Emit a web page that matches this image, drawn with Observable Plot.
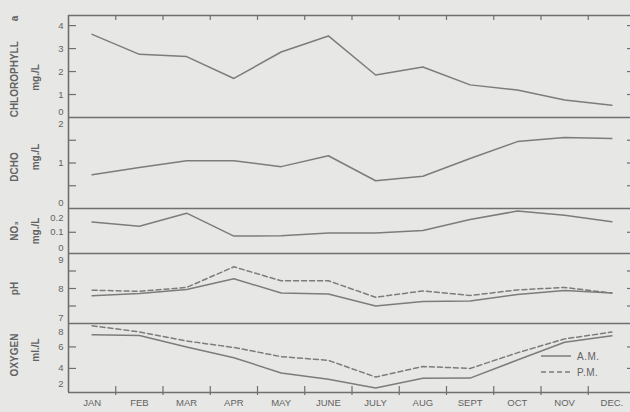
<!DOCTYPE html>
<html>
<head>
<meta charset="utf-8">
<script src="https://cdn.jsdelivr.net/npm/d3@7"></script>
<script src="https://cdn.jsdelivr.net/npm/@observablehq/plot@0.6"></script>
<style>
  body { margin: 0; background: #e7e7e5; }
  #chart { position: relative; width: 630px; height: 412px; overflow: hidden; }
  #chart svg { display: block; }
  #legend { position: absolute; left: 537px; top: 347px; }
</style>
</head>
<body>
<div id="chart"></div>
<script>
// Monthly means, January to December
const months = ["JAN", "FEB", "MAR", "APR", "MAY", "JUNE", "JULY", "AUG", "SEPT", "OCT", "NOV", "DEC."];

const chlorophyll = [3.62, 2.75, 2.65, 1.7, 2.85, 3.55, 1.85, 2.2, 1.42, 1.2, 0.76, 0.53];
const dcho        = [0.74, 0.9, 1.05, 1.05, 0.92, 1.16, 0.61, 0.71, 1.1, 1.47, 1.56, 1.54];
const no3         = [0.148, 0.128, 0.19, 0.082, 0.084, 0.096, 0.097, 0.108, 0.16, 0.2, 0.18, 0.15];
const phAM        = [7.79, 7.86, 7.97, 8.28, 7.87, 7.84, 7.5, 7.63, 7.64, 7.83, 7.94, 7.87];
const phPM        = [7.95, 7.92, 8.03, 8.62, 8.22, 8.22, 7.75, 7.93, 7.8, 7.96, 8.03, 7.87];
const oxygenAM    = [7.13, 7.06, 6.0, 5.0, 3.58, 3.0, 2.18, 3.09, 3.1, 4.78, 6.43, 7.03];
const oxygenPM    = [7.97, 7.4, 6.55, 5.95, 5.1, 4.75, 3.2, 4.18, 4.0, 5.45, 6.75, 7.38];

// Axis ticks and labels per panel
const chlTicks = [1, 2, 3, 4],        chlLabels = [0, 1, 2, 3, 4];
const dchoTicks = [0.5, 1, 1.5],      dchoLabels = [0, 1, 2];
const no3Ticks = [0.1],               no3Labels = [0, 0.1, 0.2];
const phTicks = [7.5, 8, 8.5],        phLabels = [7, 8, 9];
const oxyTicks = [4, 6],              oxyLabels = [2, 4, 6, 8];

const INK = "#6f6f6f";
const LINE = "#7c7c7c";
const TEXT = "#636363";
const FONT = "Liberation Sans, Arial, sans-serif";
const WIDTH = 630, LEFT = 68, RIGHT = -5;
const frameW = WIDTH - RIGHT - LEFT;
const bounds = months.slice(1).map((m, i) => i + 0.5);

const panels = [
  {title: "CHLOROPHYLL\u2003\u2003a", unit: "mg./L", titleDy: 0, unitDy: 11, series: [{v: chlorophyll}], domain: [0, 4.44],
   ticks: chlTicks, labels: chlLabels, fmt: d3.format("d"), height: 117, top: 15, bottom: 0, first: true},
  {title: "DCHO", unit: "mg./L", titleDy: 4, unitDy: -6, series: [{v: dcho}], domain: [0, 2],
   ticks: dchoTicks, labels: dchoLabels, fmt: d3.format("d"), height: 91, top: 0, bottom: 0},
  {title: "NO\u2083", unit: "mg./L", titleDy: 0, unitDy: 0, series: [{v: no3}], domain: [0, 0.212],
   ticks: no3Ticks, labels: no3Labels, fmt: d => d === 0 ? "0" : d3.format(".1f")(d), height: 45, top: 0, bottom: 0},
  {title: "pH", unit: null, titleDy: 0, unitDy: 0, series: [{v: phAM}, {v: phPM, dash: "5,3"}], domain: [7, 9],
   ticks: phTicks, labels: phLabels, fmt: d3.format("d"), height: 70, top: 0, bottom: 0},
  {title: "OXYGEN", unit: "ml./L", titleDy: -3, unitDy: -8, series: [{v: oxygenAM}, {v: oxygenPM, dash: "5,3"}], domain: [1.76, 8.18],
   ticks: oxyTicks, labels: oxyLabels, fmt: d3.format("d"), height: 89, top: 0, bottom: 20, last: true}
];

function drawPanel(p) {
  const [lo, hi] = p.domain;
  const span = hi - lo;
  const frameH = p.height - p.top - p.bottom;
  const edge = v => (v - lo < span * 0.08 ? "bottom" : hi - v < span * 0.08 ? "top" : "middle");
  const shift = {bottom: -3, middle: 0, top: 3};
  const textOpts = {fill: TEXT, fontFamily: FONT};
  const titleOpts = {frameAnchor: "left", rotate: -90, textAnchor: "middle", fontSize: 10, fontWeight: "bold", ...textOpts};

  const marks = [
    // panel borders
    Plot.ruleY([hi], {stroke: INK, strokeWidth: 1.6}),
    Plot.ruleX([-0.5], {stroke: INK, strokeWidth: 1.6}),
    Plot.ruleX([11.5], {stroke: INK, strokeWidth: 1.6}),
    // inward ticks on both sides
    Plot.ruleY(p.ticks, {stroke: INK, strokeWidth: 1.2, insetRight: frameW - 8}),
    Plot.ruleY(p.ticks, {stroke: INK, strokeWidth: 1.2, insetLeft: frameW - 8}),
    // tick labels, those at the panel edges kept inside the panel
    ...["bottom", "middle", "top"].map(a => Plot.text(p.labels.filter(v => edge(v) === a), {
      y: d => d, text: p.fmt, frameAnchor: "left", dx: -5, dy: shift[a], textAnchor: "end", lineAnchor: a,
      fontSize: 9.5, ...textOpts
    })),
    // titles
    Plot.text([p.title], {dx: -54, dy: p.titleDy, ...titleOpts}),
    ...(p.unit ? [Plot.text([p.unit], {dx: -33, dy: p.unitDy, ...titleOpts})] : []),
    // data lines
    ...p.series.map(s => Plot.line(s.v, {
      x: (d, i) => i, y: d => d, stroke: LINE, strokeWidth: 1.5,
      strokeDasharray: s.dash ?? null
    }))
  ];
  if (p.first) {
    marks.push(Plot.ruleX(bounds, {stroke: INK, strokeWidth: 1.2, insetBottom: frameH - 5}));
  }
  if (p.last) {
    marks.push(
      Plot.ruleY([lo], {stroke: INK, strokeWidth: 1.6}),
      Plot.ruleX(bounds, {stroke: INK, strokeWidth: 1.2, insetTop: frameH - 6, insetBottom: -3}),
      Plot.text(months, {x: (d, i) => i, text: d => d, frameAnchor: "bottom", dy: 13,
        fontSize: 9.5, letterSpacing: "0.6px", ...textOpts})
    );
  }

  return Plot.plot({
    width: WIDTH,
    height: p.height,
    marginLeft: LEFT,
    marginRight: RIGHT,
    marginTop: p.top,
    marginBottom: p.bottom,
    style: {background: "transparent", overflow: "visible", fontFamily: FONT},
    x: {domain: [-0.5, 11.5], range: [LEFT, WIDTH - RIGHT], axis: null},
    y: {domain: p.domain, axis: null},
    marks
  });
}

const chart = document.getElementById("chart");
for (const p of panels) chart.appendChild(drawPanel(p));

// Legend for the morning / afternoon readings
const legend = document.createElement("div");
legend.id = "legend";
legend.innerHTML = `
<svg width="80" height="34" style="overflow:visible">
  <line x1="4" x2="34" y1="9" y2="9" stroke="${LINE}" stroke-width="1.5"/>
  <line x1="4" x2="34" y1="25" y2="25" stroke="${LINE}" stroke-width="1.5" stroke-dasharray="5,3"/>
  <text x="40" y="9" dy="0.35em" fill="${TEXT}" font-family="${FONT}" font-size="10" letter-spacing="0.5">A.M.</text>
  <text x="40" y="25" dy="0.35em" fill="${TEXT}" font-family="${FONT}" font-size="10" letter-spacing="0.5">P.M.</text>
</svg>`;
chart.appendChild(legend);
</script>
</body>
</html>
